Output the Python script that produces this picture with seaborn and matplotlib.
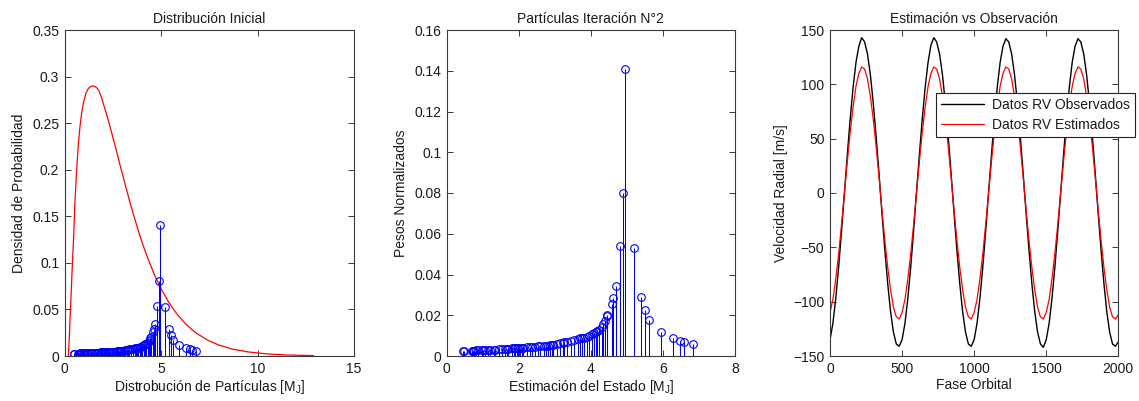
import matplotlib
matplotlib.use("Agg")
import matplotlib.pyplot as plt
import seaborn as sns
import pandas as pd
from matplotlib.ticker import FixedLocator, FixedFormatter

# ---------------- data ----------------
# particles (state estimate [M_J]) and normalized weights
particle_x = [0.46, 0.49, 0.69, 0.72, 0.74, 0.77, 0.81, 0.86, 0.97, 1.01, 1.06, 1.15, 1.20,
              1.30, 1.35, 1.44, 1.53, 1.62, 1.67, 1.71, 1.81, 1.86, 1.90, 1.95, 1.99, 2.04,
              2.08, 2.13, 2.24, 2.30, 2.36, 2.45, 2.52, 2.59, 2.69, 2.76, 2.80, 2.87, 2.92,
              2.96, 3.06, 3.15, 3.22, 3.26, 3.33, 3.44, 3.52, 3.63, 3.70, 3.75, 3.81, 3.89,
              3.96, 4.03, 4.09, 4.13, 4.17, 4.24, 4.30, 4.35, 4.40, 4.44, 4.46, 4.58, 4.61,
              4.69, 4.81, 4.89, 4.935, 5.21, 5.39, 5.49, 5.61, 5.94, 6.27, 6.48, 6.59, 6.83]
weights = [0.0026, 0.0025, 0.0025, 0.0026, 0.0026, 0.0025, 0.0027, 0.0027, 0.0028, 0.0029,
           0.0029, 0.0030, 0.0029, 0.0031, 0.0031, 0.0032, 0.0033, 0.0036, 0.0035, 0.0036,
           0.0037, 0.0038, 0.0039, 0.0039, 0.0039, 0.0040, 0.0040, 0.0041, 0.0043, 0.0044,
           0.0046, 0.0046, 0.0047, 0.0048, 0.0050, 0.0051, 0.0051, 0.0052, 0.0054, 0.0055,
           0.0059, 0.0062, 0.0064, 0.0067, 0.0070, 0.0073, 0.0078, 0.0081, 0.0086, 0.0087,
           0.0089, 0.0095, 0.0099, 0.0106, 0.0114, 0.0118, 0.0124, 0.0130, 0.0142, 0.0158,
           0.0172, 0.0198, 0.0203, 0.0256, 0.0285, 0.0344, 0.054, 0.080, 0.141, 0.053,
           0.029, 0.0226, 0.0177, 0.0116, 0.0087, 0.0072, 0.0067, 0.0059]

# initial prior density (red curve)
prior_x = [0.19, 0.22, 0.25, 0.28, 0.32, 0.36, 0.40, 0.45, 0.53, 0.62, 0.70, 0.79, 0.88,
           0.97, 1.10, 1.22, 1.32, 1.43, 1.55, 1.66, 1.78, 1.91, 2.00, 2.15, 2.30, 2.45,
           2.60, 2.75, 2.90, 3.20, 3.50, 3.80, 4.10, 4.40, 4.70, 5.00, 5.40, 5.80, 6.30,
           6.80, 7.40, 8.00, 8.70, 9.50, 10.5, 11.5, 12.9]
prior_pdf = [0.0, 0.012, 0.025, 0.042, 0.060, 0.080, 0.100, 0.121, 0.165, 0.200, 0.225,
             0.246, 0.261, 0.272, 0.282, 0.287, 0.289, 0.290, 0.2895, 0.288, 0.2845,
             0.2775, 0.271, 0.261, 0.250, 0.2385, 0.2267, 0.2147, 0.2026, 0.1789, 0.1564,
             0.1356, 0.1168, 0.1000, 0.0851, 0.0722, 0.0575, 0.0456, 0.0338, 0.0249,
             0.0171, 0.0117, 0.0074, 0.0044, 0.0022, 0.0011, 0.0004]

# radial velocity curves
phase = list(range(0, 2001, 20))
rv_observed = [
    -135, -120, -97, -68, -35, 0, 35, 68, 97, 120, 135, 143, 139, 128, 109, 83, 52, 18,
    -18, -52, -83, -109, -128, -139, -141,
    -135, -120, -97, -68, -35, 1, 35, 68, 97, 120, 136, 143, 139, 128, 109, 83, 52, 18,
    -18, -52, -83, -109, -128, -139, -141,
    -135, -120, -97, -68, -35, 0, 35, 68, 97, 120, 135, 142, 139, 128, 109, 83, 52, 18,
    -18, -52, -83, -109, -128, -139, -142,
    -135, -120, -97, -68, -35, 0, 35, 68, 97, 120, 135, 142, 139, 128, 109, 83, 52, 18,
    -18, -52, -83, -109, -128, -139, -141,
    -137]
rv_estimated = [
    -110, -98, -79, -56, -29, 0, 29, 56, 79, 98, 110, 116, 114, 105, 89, 68, 43, 15,
    -15, -43, -68, -89, -105, -114, -116,
    -110, -98, -79, -56, -29, 0, 29, 56, 79, 98, 110, 116, 114, 105, 89, 68, 43, 15,
    -15, -43, -68, -89, -105, -114, -116,
    -110, -98, -79, -56, -29, 0, 29, 56, 79, 98, 110, 116, 114, 105, 89, 68, 43, 15,
    -15, -43, -68, -89, -105, -114, -116,
    -110, -98, -79, -56, -29, 0, 29, 56, 79, 98, 110, 116, 114, 105, 89, 68, 43, 15,
    -15, -43, -68, -89, -105, -114, -116,
    -112]

# ticks
p1_xticks = [0, 5, 10, 15]
p1_yticks = [0, 0.05, 0.1, 0.15, 0.2, 0.25, 0.3, 0.35]
p1_ylabels = ["0", "0.05", "0.1", "0.15", "0.2", "0.25", "0.3", "0.35"]
p2_xticks = [0, 2, 4, 6, 8]
p2_yticks = [0, 0.02, 0.04, 0.06, 0.08, 0.1, 0.12, 0.14, 0.16]
p2_ylabels = ["0", "0.02", "0.04", "0.06", "0.08", "0.1", "0.12", "0.14", "0.16"]
p3_xticks = [0, 500, 1000, 1500, 2000]
p3_yticks = [-150, -100, -50, 0, 50, 100, 150]

# ---------------- style ----------------
sns.set_theme(style="ticks")
plt.rcParams["font.family"] = ["Liberation Sans", "DejaVu Sans"]
plt.rcParams["mathtext.fontset"] = "custom"
plt.rcParams["mathtext.rm"] = "Liberation Sans"
plt.rcParams["mathtext.it"] = "Liberation Sans"
plt.rcParams["font.size"] = 10
plt.rcParams["axes.titlesize"] = 10
plt.rcParams["axes.labelsize"] = 10
plt.rcParams["xtick.labelsize"] = 10
plt.rcParams["ytick.labelsize"] = 10
plt.rcParams["xtick.direction"] = "in"
plt.rcParams["ytick.direction"] = "in"

FRAME = "#3a3a3a"
TXT = "#1a1a1a"
BLUE = "#0000ff"

fig = plt.figure(figsize=(11.39, 4.01), dpi=100, facecolor="white")
W, H = 1139.0, 401.0
def add_ax(l, r, t, b):
    return fig.add_axes([l / W, (H - b) / H, (r - l) / W, (b - t) / H])

ax1 = add_ax(64.7, 354.0, 30.0, 356.0)
ax2 = add_ax(446.7, 735.0, 30.0, 356.0)
ax3 = add_ax(830.0, 1118.3, 30.0, 356.0)

def style(ax):
    ax.set_facecolor("white")
    for s in ax.spines.values():
        s.set_visible(True)
        s.set_color(FRAME)
        s.set_linewidth(0.8)
    ax.tick_params(which="both", top=True, right=True, direction="in", length=4,
                   width=0.7, color=FRAME, labelcolor=TXT, pad=4)
    ax.grid(False)

def stems(ax):
    ml, sl, bl = ax.stem(particle_x, weights, basefmt=" ")
    plt.setp(sl, color=BLUE, linewidth=0.75)
    plt.setp(ml, marker="o", markerfacecolor="none", markeredgecolor=BLUE,
             markersize=5.5, markeredgewidth=0.8)

# Panel 1
df_prior = pd.DataFrame({"x": prior_x, "pdf": prior_pdf})
sns.lineplot(data=df_prior, x="x", y="pdf", ax=ax1, color="red", linewidth=0.9)
stems(ax1)
ax1.set_xlim(0, 15)
ax1.set_ylim(0, 0.35)
ax1.xaxis.set_major_locator(FixedLocator(p1_xticks))
ax1.yaxis.set_major_locator(FixedLocator(p1_yticks))
ax1.yaxis.set_major_formatter(FixedFormatter(p1_ylabels))
ax1.set_title("Distribución Inicial", color=TXT, pad=5)
ax1.set_xlabel(r"Distrobución de Partículas [M$_\mathrm{J}$]", color=TXT, labelpad=2)
ax1.set_ylabel("Densidad de Probabilidad", color=TXT)
style(ax1)

# Panel 2
stems(ax2)
ax2.set_xlim(0, 8)
ax2.set_ylim(0, 0.16)
ax2.xaxis.set_major_locator(FixedLocator(p2_xticks))
ax2.yaxis.set_major_locator(FixedLocator(p2_yticks))
ax2.yaxis.set_major_formatter(FixedFormatter(p2_ylabels))
ax2.set_title("Partículas Iteración N°2", color=TXT, pad=5)
ax2.set_xlabel(r"Estimación del Estado [M$_\mathrm{J}$]", color=TXT, labelpad=2)
ax2.set_ylabel("Pesos Normalizados", color=TXT)
style(ax2)

# Panel 3
df_rv = pd.DataFrame({"fase": phase, "obs": rv_observed, "est": rv_estimated})
sns.lineplot(data=df_rv, x="fase", y="obs", ax=ax3, color="black", linewidth=1.0,
             label="Datos RV Observados")
sns.lineplot(data=df_rv, x="fase", y="est", ax=ax3, color="red", linewidth=0.9,
             label="Datos RV Estimados")
ax3.set_xlim(0, 2000)
ax3.set_ylim(-150, 150)
ax3.xaxis.set_major_locator(FixedLocator(p3_xticks))
ax3.yaxis.set_major_locator(FixedLocator(p3_yticks))
ax3.set_title("Estimación vs Observación", color=TXT, pad=5)
ax3.set_xlabel("Fase Orbital", color=TXT, labelpad=2)
ax3.set_ylabel("Velocidad Radial [m/s]", color=TXT)
style(ax3)
leg = ax3.legend(loc="upper left", bbox_to_anchor=(0.367, 0.806), frameon=True,
                 fancybox=False, framealpha=1, edgecolor="#222222", fontsize=10,
                 handlelength=3.1, borderpad=0.35, labelspacing=0.45,
                 handletextpad=0.6, borderaxespad=0)
leg.get_frame().set_linewidth(0.8)
for t in leg.get_texts():
    t.set_color(TXT)

fig.savefig("out.png", dpi=100, facecolor="white")
